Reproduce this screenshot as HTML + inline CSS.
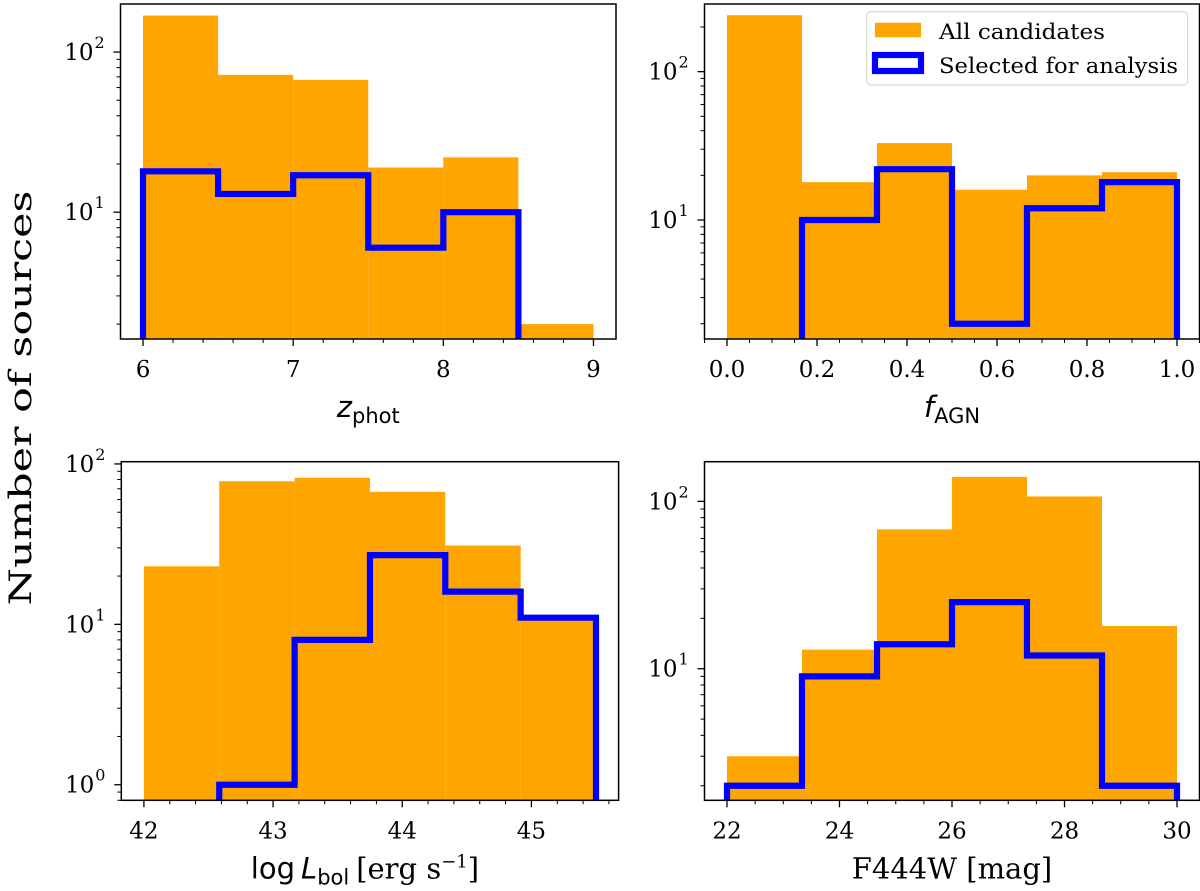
<!DOCTYPE html>
<html><head><meta charset="utf-8">
<style>
html,body{margin:0;padding:0;background:#fff;}
svg{display:block;}
text{font-family:"DejaVu Serif","Liberation Serif",serif;fill:#000;}
.sans{font-family:"DejaVu Sans","Liberation Sans",sans-serif;}
</style></head>
<body>
<svg id="fig" width="1200" height="891" viewBox="0 0 1200 891" xmlns="http://www.w3.org/2000/svg">
<text transform="translate(31,398) rotate(-90)" text-anchor="middle" font-size="31" textLength="415" lengthAdjust="spacingAndGlyphs">Number of sources</text>
</svg>
<script>
// Panel 1: z_phot
const zEdges = [6, 6.5, 7, 7.5, 8, 8.5, 9];
const zAll = [169, 72, 67, 19, 22, 2];
const zSel = [18, 13, 17, 6, 10, 0];
const zTicks = [6, 7, 8, 9];
const zTickLabels = ["6", "7", "8", "9"];
// Panel 2: f_AGN
const fEdges = [0, 1/6, 2/6, 3/6, 4/6, 5/6, 1];
const fAll = [240, 18, 33, 16, 20, 21];
const fSel = [0, 10, 22, 2, 12, 18];
const fTicks = [0, 0.2, 0.4, 0.6, 0.8, 1.0];
const fTickLabels = ["0.0", "0.2", "0.4", "0.6", "0.8", "1.0"];
// Panel 3: log L_bol
const lEdges = [42, 42.5833, 43.1667, 43.75, 44.3333, 44.9167, 45.5];
const lAll = [23, 78, 82, 67, 31, 11];
const lSel = [0, 1, 8, 27, 16, 11];
const lTicks = [42, 43, 44, 45];
const lTickLabels = ["42", "43", "44", "45"];
// Panel 4: F444W
const mEdges = [22, 23.333, 24.667, 26, 27.333, 28.667, 30];
const mAll = [3, 13, 68, 140, 107, 18];
const mSel = [2, 9, 14, 25, 12, 2];
const mTicks = [22, 24, 26, 28, 30];
const mTickLabels = ["22", "24", "26", "28", "30"];

const NS = "http://www.w3.org/2000/svg";
const svg = document.getElementById('fig');
function mk(tag, attrs, parent) {
  const e = document.createElementNS(NS, tag);
  for (const k in attrs) e.setAttribute(k, attrs[k]);
  (parent || svg).appendChild(e);
  return e;
}

const panels = [
  {id:'zphot', L:120.5, R:616, T:4, B:339, x0:5.85, x1:9.15, ylo:0.208, yhi:2.30,
   edges:zEdges, all:zAll, sel:zSel, ticks:zTicks, labels:zTickLabels, minor:0.2, xlabel:'z'},
  {id:'fagn', L:704.5, R:1199.5, T:4, B:339, x0:-0.05, x1:1.05, ylo:0.198, yhi:2.456,
   edges:fEdges, all:fAll, sel:fSel, ticks:fTicks, labels:fTickLabels, minor:0.05, xlabel:'f', legend:true},
  {id:'lbol', L:121.3, R:618.6, T:461.7, B:800.3, x0:41.825, x1:45.675, ylo:-0.097, yhi:2.014,
   edges:lEdges, all:lAll, sel:lSel, ticks:lTicks, labels:lTickLabels, minor:0.2, xlabel:'L'},
  {id:'f444w', L:704.5, R:1199.5, T:461.7, B:800.3, x0:21.6, x1:30.4, ylo:0.214, yhi:2.237,
   edges:mEdges, all:mAll, sel:mSel, ticks:mTicks, labels:mTickLabels, minor:0.5, xlabel:'F'}
];

panels.forEach((p, pi) => {
  const g = mk('g', {});
  
  
  const xs = v => p.L + (v - p.x0) / (p.x1 - p.x0) * (p.R - p.L);
  const ys = v => {
    if (v <= 0) return p.B + 20;
    const lv = Math.log10(v);
    return p.B - (lv - p.ylo) / (p.yhi - p.ylo) * (p.B - p.T);
  };
  const cp = mk('clipPath', {id: 'clip' + pi}, g);
  mk('rect', {x:p.L, y:p.T, width:p.R - p.L, height:p.B - p.T}, cp);
  const plot = mk('g', {'clip-path': 'url(#clip' + pi + ')'}, g);
  p.all.forEach((v, i) => {
    if (v <= 0) return;
    const r = mk('rect', {x:xs(p.edges[i]), y:ys(v), width:xs(p.edges[i+1]) - xs(p.edges[i]), height:p.B + 10 - ys(v), fill:'#ffa500'}, plot);
    
    
  });
  let first = p.sel.findIndex(v => v > 0);
  let last = p.sel.length - 1 - [...p.sel].reverse().findIndex(v => v > 0);
  let d = 'M' + xs(p.edges[first]) + ',' + (p.B + 20);
  for (let i = first; i <= last; i++) {
    d += ' L' + xs(p.edges[i]) + ',' + ys(p.sel[i]) + ' L' + xs(p.edges[i+1]) + ',' + ys(p.sel[i]);
  }
  d += ' L' + xs(p.edges[last+1]) + ',' + (p.B + 20);
  const st = mk('path', {d:d, fill:'none', stroke:'#0000ff', 'stroke-width':6.2, 'stroke-linejoin':'miter'}, plot);
  
  
  const fr = mk('rect', {x:p.L, y:p.T, width:p.R - p.L, height:p.B - p.T, fill:'none', stroke:'#000', 'stroke-width':1.5}, g);
  
  
  const xa = mk('g', {}, g);
  
  
  p.ticks.forEach((t, i) => {
    const x = xs(t);
    mk('line', {x1:x, x2:x, y1:p.B, y2:p.B + 7, stroke:'#000', 'stroke-width':1.3}, xa);
    const tx = mk('text', {x:x, y:p.B + 38, 'text-anchor':'middle', 'font-size':23}, xa);
    tx.textContent = p.labels[i];
    
    
  });
  const start = Math.ceil(p.x0 / p.minor);
  for (let k = start; k * p.minor <= p.x1; k++) {
    const v = k * p.minor;
    if (p.ticks.some(t => Math.abs(t - v) < 1e-6)) continue;
    const x = xs(v);
    mk('line', {x1:x, x2:x, y1:p.B, y2:p.B + 4, stroke:'#000', 'stroke-width':1}, xa);
  }
  const ya = mk('g', {}, g);
  
  
  for (let dec = -1; dec <= 3; dec++) {
    for (let m = 1; m <= 9; m++) {
      const v = m * Math.pow(10, dec);
      const lv = Math.log10(v);
      if (lv < p.ylo || lv > p.yhi) continue;
      const y = ys(v);
      mk('line', {x1:p.L, x2:p.L - (m === 1 ? 7 : 4), y1:y, y2:y, stroke:'#000', 'stroke-width':m === 1 ? 1.3 : 1}, ya);
      if (m === 1) {
        const tx = mk('text', {x:p.L - 27, y:y + 8, 'text-anchor':'end', 'font-size':23}, ya);
        tx.textContent = '10';
        
        
        const sp = mk('text', {x:p.L - 26, y:y - 4, 'text-anchor':'start', 'font-size':16}, ya);
        sp.textContent = String(dec);
      }
    }
  }
  const cx = (p.L + p.R) / 2;
  const lab = mk('text', {x:cx, y:p.B + 78, 'text-anchor':'middle', 'font-size':29}, g);
  
  
  if (p.xlabel === 'z') {
    lab.setAttribute('class', 'sans');
    lab.innerHTML = '<tspan font-style="italic">z</tspan><tspan font-size="21" dy="6">phot</tspan>';
  } else if (p.xlabel === 'f') {
    lab.setAttribute('class', 'sans');
    lab.innerHTML = '<tspan font-style="italic">f</tspan><tspan font-size="21" dy="6">AGN</tspan>';
  } else if (p.xlabel === 'L') {
    lab.setAttribute('x', cx - 5);
    lab.innerHTML = '<tspan class="sans">log</tspan><tspan class="sans" font-style="italic" dx="6">L</tspan><tspan class="sans" font-size="21" dy="6">bol</tspan><tspan dy="-6" dx="7">[erg s</tspan><tspan font-size="18" dy="-11">−1</tspan><tspan dy="11">]</tspan>';
  } else {
    lab.textContent = 'F444W [mag]';
  }
  if (p.legend) {
    const lg = mk('g', {}, g);
    
    
    mk('rect', {x:866.7, y:11.7, width:321, height:73.3, rx:4, fill:'#fff', 'fill-opacity':0.8, stroke:'#d0d0d0', 'stroke-width':1}, lg);
    const e1 = mk('rect', {x:875, y:22.7, width:46, height:14.6, fill:'#ffa500'}, lg);
    
    
    const t1 = mk('text', {x:939, y:39, 'font-size':21, textLength:166, lengthAdjust:'spacingAndGlyphs'}, lg);
    t1.textContent = 'All candidates';
    const e2 = mk('rect', {x:875, y:55, width:46, height:16, fill:'none', stroke:'#0000ff', 'stroke-width':6.2}, lg);
    
    
    const t2 = mk('text', {x:939, y:73, 'font-size':21, textLength:239, lengthAdjust:'spacingAndGlyphs'}, lg);
    t2.textContent = 'Selected for analysis';
  }
});
</script>
</body></html>
